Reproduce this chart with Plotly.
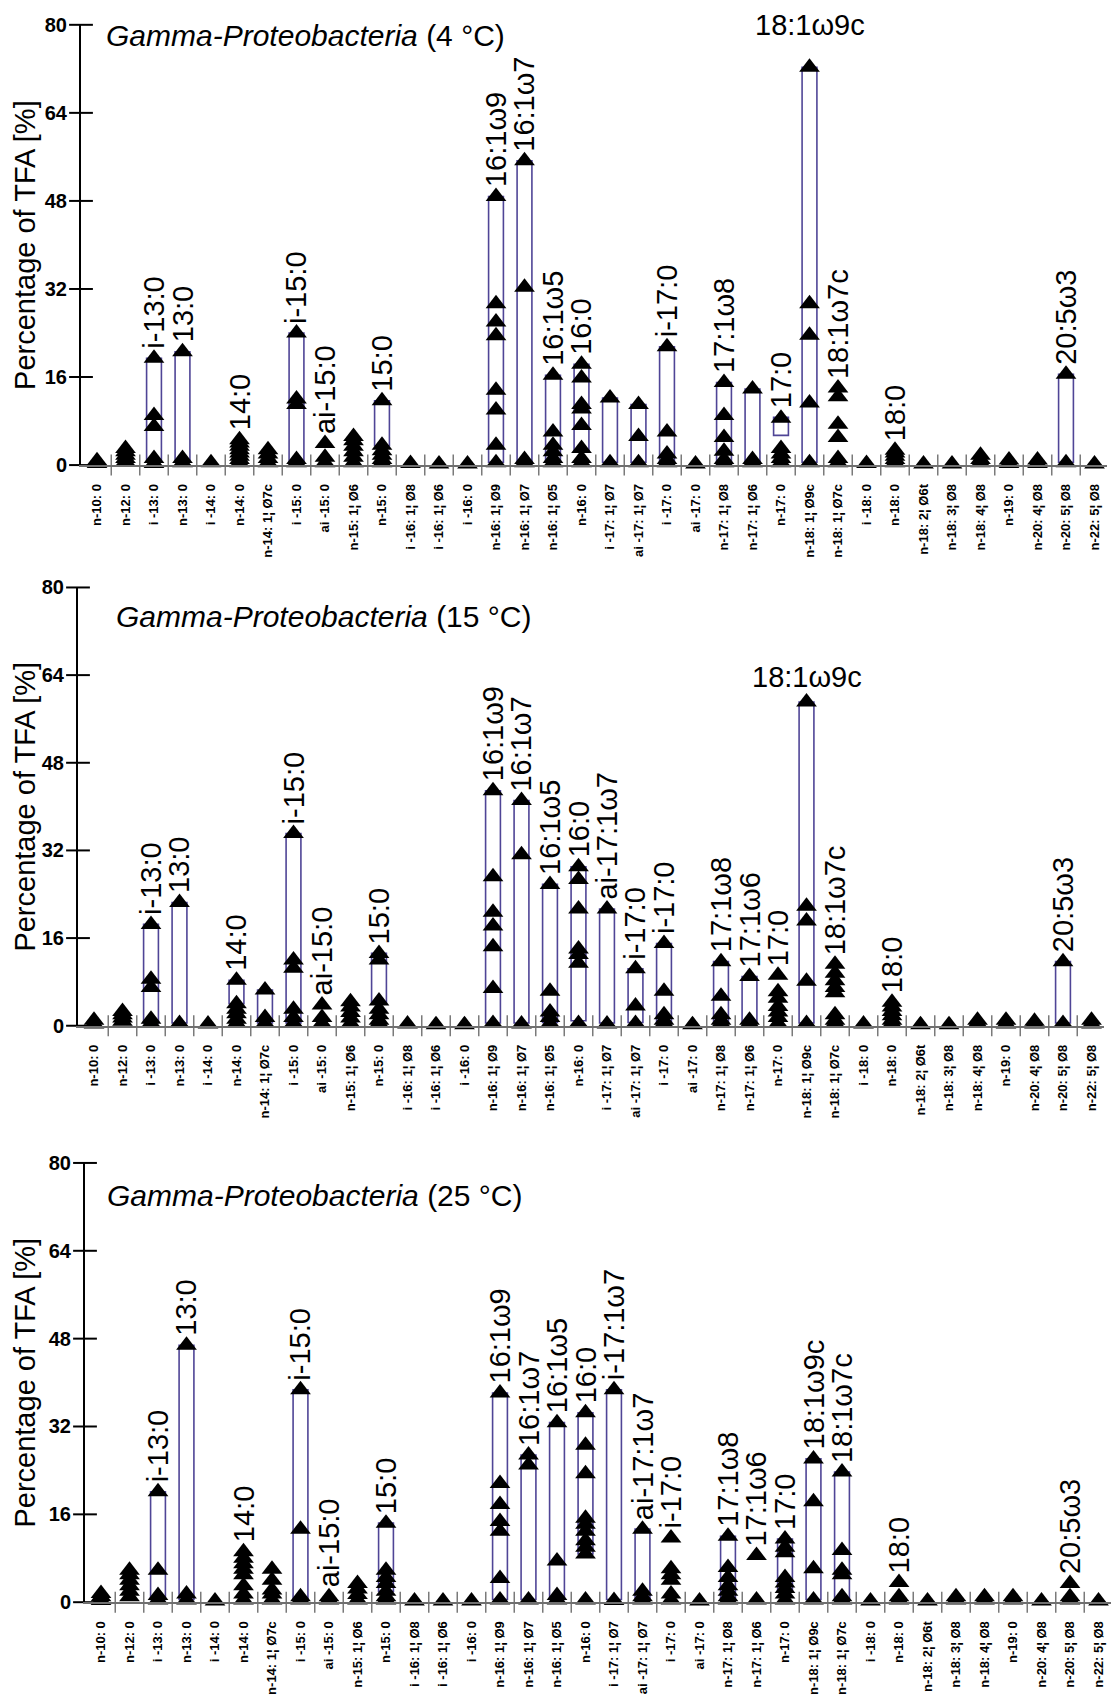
import plotly.graph_objects as go

# ---------------- data ----------------
categories = [
    "n-10: 0", "n-12: 0", "i -13: 0", "n-13: 0", "i -14: 0", "n-14: 0",
    "n-14: 1¦ Ø7c", "i -15: 0", "ai -15: 0", "n-15: 1¦ Ø6", "n-15: 0",
    "i -16: 1¦ Ø8", "i -16: 1¦ Ø6", "i -16: 0", "n-16: 1¦ Ø9", "n-16: 1¦ Ø7",
    "n-16: 1¦ Ø5", "n-16: 0", "i -17: 1¦ Ø7", "ai -17: 1¦ Ø7", "i -17: 0",
    "ai -17: 0", "n-17: 1¦ Ø8", "n-17: 1¦ Ø6", "n-17: 0", "n-18: 1¦ Ø9c",
    "n-18: 1¦ Ø7c", "i -18: 0", "n-18: 0", "n-18: 2¦ Ø6t", "n-18: 3¦ Ø8",
    "n-18: 4¦ Ø8", "n-19: 0", "n-20: 4¦ Ø8", "n-20: 5¦ Ø8", "n-22: 5¦ Ø8",
]

titles = ["4 °C", "15 °C", "25 °C"]

values_4C = [
    [0.3, 0.8], [0.6, 1.2, 1.8, 2.4, 3.0], [0.3, 1.2, 7.0, 9.0, 19.4], [0.4, 1.2, 20.6],
    [0.4], [0.4, 1.0, 1.6, 2.2, 2.8, 3.4, 4.0, 4.6], [0.4, 1.2, 2.0, 2.8],
    [0.4, 1.0, 11.0, 12.0, 24.0], [0.4, 1.4, 3.9], [0.4, 1.4, 2.4, 3.4, 4.4, 5.2],
    [0.4, 1.0, 1.8, 2.6, 3.6, 11.7], [0.3], [0.2], [0.2],
    [0.4, 3.6, 10.0, 13.6, 23.5, 26.0, 29.3, 48.8], [0.4, 1.0, 32.3, 55.3],
    [0.4, 1.2, 2.4, 3.6, 6.0, 16.3], [0.4, 1.2, 3.0, 7.2, 10.2, 11.0, 15.8, 18.3],
    [0.4, 12.2], [0.4, 5.2, 11.0], [0.4, 1.0, 2.0, 6.0, 21.5], [0.2],
    [0.4, 1.0, 2.5, 5.0, 9.0, 15.0], [0.4, 1.0, 13.8], [0.4, 1.2, 2.0, 3.0, 8.5],
    [0.4, 11.3, 23.6, 29.3, 72.3], [0.4, 1.2, 5.0, 7.4, 12.4, 14.0], [0.3],
    [0.4, 1.0, 1.6, 2.2, 2.7], [0.2], [0.2], [0.4, 1.0, 1.8], [0.3, 0.9],
    [0.3, 0.9], [0.4, 16.5], [0.2],
]
box_lo_4C = [None, None, 0.6, 0.5, None, None, None, 0.5, None, None, 3.5, None, None, None,
             0.5, 0.5, 0.5, 2.4, 0.5, 0.5, 0.5, None, 0.5, 0.5, 5.4, 0.5, None, None, None,
             None, None, None, None, None, 0.5, None]
box_hi_4C = [None, None, 19.4, 20.6, None, None, None, 24.0, None, None, 11.7, None, None, None,
             48.8, 55.3, 16.3, 18.3, 12.2, 11.0, 21.5, None, 15.0, 13.8, 8.7, 72.3, None, None, None,
             None, None, None, None, None, 16.5, None]
labels_4C = ["", "", "i-13:0", "13:0", "", "14:0", "", "i-15:0", "ai-15:0", "", "15:0", "", "", "",
             "16:1ω9", "16:1ω7", "16:1ω5", "16:0", "", "", "i-17:0", "", "17:1ω8", "", "17:0",
             "18:1ω9c", "18:1ω7c", "", "18:0", "", "", "", "", "", "20:5ω3", ""]
upright_4C = ["18:1ω9c"]

values_15C = [
    [0.3, 1.0], [0.8, 1.4, 2.0, 2.6], [0.4, 1.2, 7.0, 8.5, 18.5], [0.4, 22.5], [0.3],
    [0.4, 1.2, 2.2, 3.0, 4.0, 8.3], [0.4, 1.5, 6.5], [0.4, 1.5, 3.0, 10.5, 12.0, 35.1],
    [0.4, 1.5, 3.8], [0.4, 1.4, 2.4, 3.4, 4.4], [0.4, 1.0, 2.0, 3.0, 4.5, 12.0, 13.2],
    [0.3], [0.2], [0.2], [0.4, 6.8, 14.4, 18.2, 20.7, 27.2, 42.9], [0.3, 31.2, 41.1],
    [0.4, 1.5, 2.5, 6.3, 25.8], [0.4, 11.4, 13.0, 14.0, 21.3, 26.7, 29.0], [0.3, 21.3],
    [0.4, 3.6, 10.4], [0.4, 1.0, 2.0, 6.3, 15.0], [0.2], [0.4, 1.0, 2.0, 5.4, 11.7],
    [0.4, 1.0, 9.0], [0.4, 1.5, 2.5, 3.5, 5.0, 6.2, 9.2], [0.4, 8.1, 19.1, 21.8, 59.1],
    [0.4, 1.0, 2.0, 6.0, 7.0, 8.2, 9.6, 11.2], [0.3], [0.4, 1.0, 1.8, 2.6, 3.4, 4.3],
    [0.2], [0.2], [0.4, 1.0], [0.3, 1.0], [0.3, 0.8], [0.4, 11.7], [0.3, 1.0],
]
box_lo_15C = [None, None, 0.5, 0.5, None, 4.0, 0.5, 0.5, None, None, 4.0, None, None, None,
              0.5, 0.5, 0.6, 0.9, 0.5, 0.6, 0.5, None, 0.5, 0.5, None, 0.5, None, None, None,
              None, None, None, None, None, 0.5, None]
box_hi_15C = [None, None, 18.5, 22.5, None, 8.3, 6.5, 35.1, None, None, 13.2, None, None, None,
              42.9, 41.1, 25.8, 29.0, 21.3, 10.4, 15.0, None, 11.7, 9.0, None, 59.1, None, None, None,
              None, None, None, None, None, 11.7, None]
labels_15C = ["", "", "i-13:0", "13:0", "", "14:0", "", "i-15:0", "ai-15:0", "", "15:0", "", "", "",
              "16:1ω9", "16:1ω7", "16:1ω5", "16:0", "ai-17:1ω7", "i-17:0", "i-17:0", "", "17:1ω8",
              "17:1ω6", "17:0", "18:1ω9c", "18:1ω7c", "", "18:0", "", "", "", "", "", "20:5ω3", ""]
upright_15C = ["18:1ω9c"]

values_25C = [
    [0.3, 1.0, 1.6], [1.0, 2.0, 3.0, 4.0, 5.0, 5.8], [0.4, 1.2, 5.8, 20.1], [0.4, 1.5, 46.8],
    [0.2], [0.4, 1.5, 3.0, 5.0, 6.0, 7.0, 8.0, 9.2], [0.4, 1.5, 2.2, 4.0, 6.0],
    [0.4, 1.0, 13.3, 38.7], [0.4, 1.0], [0.4, 1.4, 2.4, 3.4], [0.4, 1.0, 2.0, 3.4, 4.5, 5.8, 14.4],
    [0.2], [0.2], [0.2], [0.4, 4.3, 12.9, 14.7, 17.8, 21.6, 38.1], [0.4, 25.0, 26.8],
    [0.4, 1.2, 7.5, 32.7], [0.4, 8.8, 10.0, 11.2, 12.9, 14.2, 15.3, 23.4, 28.6, 34.5],
    [0.3, 38.7], [0.4, 1.0, 2.0, 13.3], [0.4, 1.5, 4.0, 5.0, 6.1, 11.7], [0.2],
    [0.4, 1.0, 2.0, 3.0, 4.5, 6.3, 12.0], [0.4, 8.5], [0.4, 1.5, 2.5, 3.5, 4.5, 9.0, 10.0, 11.5],
    [0.4, 6.1, 18.3, 26.1], [0.4, 1.0, 5.0, 5.8, 9.4, 23.7], [0.2], [0.4, 1.0, 3.6], [0.2],
    [0.4, 1.0], [0.4, 1.0], [0.4, 1.0], [0.2], [0.4, 1.0, 3.4], [0.2],
]
box_lo_25C = [None, None, 0.5, 0.5, None, None, None, 0.5, None, None, 2.0, None, None, None,
              0.5, 0.5, 0.5, 8.8, 0.5, 0.5, None, None, 0.5, None, 2.0, 0.5, 0.5, None, None,
              None, None, None, None, None, None, None]
box_hi_25C = [None, None, 20.1, 46.8, None, None, None, 38.7, None, None, 14.4, None, None, None,
              38.1, 26.8, 32.7, 34.5, 38.7, 13.3, None, None, 12.0, None, 11.5, 26.1, 23.7, None, None,
              None, None, None, None, None, None, None]
labels_25C = ["", "", "i-13:0", "13:0", "", "14:0", "", "i-15:0", "ai-15:0", "", "15:0", "", "", "",
              "16:1ω9", "16:1ω7", "16:1ω5", "16:0", "i-17:1ω7", "ai-17:1ω7", "i-17:0", "", "17:1ω8",
              "17:1ω6", "17:0", "18:1ω9c", "18:1ω7c", "", "18:0", "", "", "", "", "", "20:5ω3", ""]
upright_25C = []

y_ticks = [0, 16, 32, 48, 64, 80]

panels = [
    (titles[0], values_4C, box_lo_4C, box_hi_4C, labels_4C, upright_4C),
    (titles[1], values_15C, box_lo_15C, box_hi_15C, labels_15C, upright_15C),
    (titles[2], values_25C, box_lo_25C, box_hi_25C, labels_25C, upright_25C),
]

# ---------------- layout geometry (pixels) ----------------
W, H = 1111, 1705
geom = [  # axis_x, first_cat_x, spacing, top_y, bottom_y
    (81, 97, 28.5, 14, 460),
    (78, 94, 28.5, 584, 1028),
    (85, 101, 28.5, 1167, 1612),
]
title_pos = [(104, 25), (114, 613), (105, 1200)]
upright_shift = [24, 7, 7]

FONT = "Liberation Sans, Arial, Helvetica, sans-serif"
PURPLE = "#4f4596"
n = len(categories)

fig = go.Figure()
layout_axes = {}
annotations = []

for k, (ttl, vals, blo, bhi, labs, upr) in enumerate(panels):
    ax_x, first_x, sp, top_y, bot_y = geom[k]
    suffix = "" if k == 0 else str(k + 1)
    xa, ya = "x" + suffix, "y" + suffix
    xmin = -(first_x - ax_x) / sp
    right_px = first_x + sp * (n - 1) + 12
    xmax = (right_px - first_x) / sp

    # boundary tick marks (cross the axis)
    bx = [i + 0.5 for i in range(n - 1)]
    fig.add_trace(go.Scatter(
        x=bx, y=[0] * len(bx), mode="markers", xaxis=xa, yaxis=ya,
        marker=dict(symbol="line-ns", size=15, line=dict(color="#7a7a7a", width=1.5)),
        cliponaxis=False, showlegend=False, hoverinfo="skip"))

    # floating boxes
    bxs = [i for i in range(n) if bhi[i] is not None]
    fig.add_trace(go.Bar(
        x=bxs, y=[bhi[i] - blo[i] for i in bxs], base=[blo[i] for i in bxs],
        width=0.52, xaxis=xa, yaxis=ya, showlegend=False,
        marker=dict(color="white", line=dict(color=PURPLE, width=1.6))))

    # individual values (triangles)
    px, py = [], []
    for i, vs in enumerate(vals):
        for v in vs:
            px.append(i)
            py.append(v)
    fig.add_trace(go.Scatter(
        x=px, y=py, mode="markers", xaxis=xa, yaxis=ya, cliponaxis=False,
        marker=dict(symbol="triangle-up", size=18, color="black"), showlegend=False))

    # y-axis crossing ticks
    fig.add_trace(go.Scatter(
        x=[xmin] * len(y_ticks), y=y_ticks, mode="markers", xaxis=xa, yaxis=ya,
        marker=dict(symbol="line-ew", size=17, line=dict(color="black", width=2)),
        cliponaxis=False, showlegend=False, hoverinfo="skip"))

    layout_axes["xaxis" + suffix] = dict(
        domain=[ax_x / W, right_px / W], range=[xmin, xmax], anchor=ya,
        tickmode="array", tickvals=list(range(n)), ticktext=categories, tickangle=-90,
        tickfont=dict(family=FONT, size=13, color="black", weight="bold"),
        ticks="", ticklabelstandoff=12, showline=True, linecolor="#6f6f6f", linewidth=1.5,
        showgrid=False, zeroline=False, fixedrange=True)
    layout_axes["yaxis" + suffix] = dict(
        domain=[1 - bot_y / H, 1 - top_y / H], range=[0, 80], anchor=xa,
        tickmode="array", tickvals=y_ticks, ticks="", ticklabelstandoff=8,
        tickfont=dict(family=FONT, size=20, color="black", weight="bold"),
        showline=True, linecolor="black", linewidth=2, showgrid=False, zeroline=False,
        fixedrange=True)

    # y-axis title
    annotations.append(dict(
        text="Percentage of TFA [%]", xref="paper", yref="paper",
        x=25 / W, y=1 - ((top_y + bot_y) / 2) / H, xanchor="center", yanchor="middle",
        textangle=-90, showarrow=False, font=dict(family=FONT, size=29, color="black")))

    # panel title
    tx, ty = title_pos[k]
    annotations.append(dict(
        text="<i>Gamma-Proteobacteria</i> (" + ttl + ")", xref="paper", yref="paper",
        x=tx / W, y=1 - ty / H, xanchor="left", yanchor="middle", showarrow=False,
        font=dict(family=FONT, size=30, color="black")))

    # fatty-acid labels
    for i, lab in enumerate(labs):
        if not lab:
            continue
        top = max(vals[i] + ([bhi[i]] if bhi[i] is not None else []))
        if lab in upr:
            annotations.append(dict(
                text=lab, x=i, y=top, xref=xa, yref=ya, xanchor="center", yanchor="bottom",
                yshift=upright_shift[k], showarrow=False,
                font=dict(family=FONT, size=29, color="black")))
        else:
            annotations.append(dict(
                text=lab, x=i, y=top, xref=xa, yref=ya, xanchor="center", yanchor="bottom",
                yshift=7, textangle=-90, showarrow=False,
                font=dict(family=FONT, size=29, color="black")))

fig.update_layout(
    width=W, height=H, margin=dict(l=0, r=0, t=0, b=0),
    paper_bgcolor="white", plot_bgcolor="white", barmode="overlay",
    showlegend=False, annotations=annotations, **layout_axes)

fig.write_html("out.html", config={"displayModeBar": False},
               post_script="document.body.style.margin='0';")
